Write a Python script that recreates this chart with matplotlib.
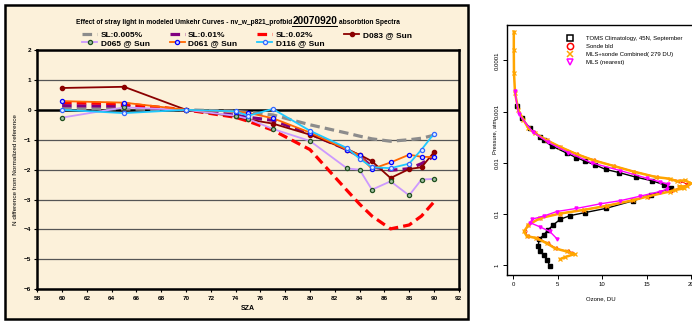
import matplotlib
matplotlib.use("Agg")
import matplotlib.pyplot as plt
import numpy as np
from matplotlib.patches import Rectangle
from matplotlib.lines import Line2D

plt.rcParams['font.family'] = ['Liberation Sans', 'DejaVu Sans']

# ---- left chart data (N difference vs SZA) ----
sza = [60, 65, 70, 74, 75, 77, 80, 83, 84, 85, 86.5, 88, 89, 90]
sl_005 = [0.04, 0.03, 0, -0.05, -0.08, -0.17, -0.5, -0.78, -0.88, -0.97, -1.05, -1.0, -0.95, -0.85]
sl_01 = [0.14, 0.12, 0, -0.18, -0.25, -0.35, -0.8, -1.33, -1.55, -1.9, -2.02, -1.97, -1.8, -1.55]
sl_02 = [0.25, 0.2, 0, -0.25, -0.38, -0.68, -1.33, -2.7, -3.15, -3.55, -3.98, -3.85, -3.55, -3.08]
d083 = [0.73, 0.77, 0, -0.22, -0.32, -0.46, -0.83, -1.33, -1.5, -1.72, -2.28, -1.98, -1.92, -1.42]
d065 = [-0.26, 0.08, 0, -0.2, -0.3, -0.64, -1.04, -1.96, -2.0, -2.67, -2.39, -2.86, -2.33, -2.31]
d061 = [0.29, 0.24, 0, -0.06, -0.1, -0.28, -0.76, -1.33, -1.52, -1.98, -1.76, -1.5, -1.57, -1.58]
d116 = [0.0, -0.11, 0, -0.05, -0.2, 0.03, -0.7, -1.28, -1.63, -1.92, -1.95, -1.8, -1.33, -0.8]

# ---- right chart data (ozone DU vs log10 pressure) ----
toms_du = [0.4, 0.94, 1.9, 3.0, 3.4, 4.3, 6.0, 7.1, 8.1, 9.2, 10.4, 11.9, 13.8, 15.6, 17.0,
           17.7, 15.5, 13.5, 10.4, 8.1, 6.4, 5.3, 4.5, 3.9, 3.4, 2.9, 2.8, 3.0, 3.4, 3.8, 4.1]
toms_logp = [-3.1, -2.87, -2.67, -2.51, -2.44, -2.33, -2.19, -2.10, -2.03, -1.96, -1.87, -1.81,
             -1.72, -1.65, -1.57, -1.50, -1.38, -1.26, -1.11, -1.03, -0.97, -0.90, -0.79, -0.69,
             -0.59, -0.51, -0.38, -0.28, -0.20, -0.10, 0.01]
sonde_du = [2.3, 3.8, 5.3, 7.2, 9.1, 11.3, 13.6, 16.2, 18.7, 19.6, 18.9, 17.7, 15.1, 13.4, 10.4, 7.8,
            5.2, 3.0, 1.7, 1.3, 1.6, 2.7, 3.9, 4.8, 6.1, 6.6]
sonde_logp = [-2.60, -2.44, -2.31, -2.17, -2.05, -1.94, -1.83, -1.72, -1.65, -1.58, -1.52, -1.45,
              -1.34, -1.27, -1.16, -1.08, -1.01, -0.92, -0.79, -0.66, -0.57, -0.53, -0.43, -0.33,
              -0.27, -0.25]
mls_sonde_du = [0.05, 0.05, 0.07, 0.19, 0.56, 1.13, 1.7, 2.4, 3.76, 5.26, 7.1, 9.0, 11.25, 13.5, 16.1,
                17.6, 18.4, 19.3, 20.0, 19.5, 18.6, 19.2, 18.2, 17.6, 15.0, 13.5, 10.5, 7.9, 5.26,
                3.0, 1.7, 1.2, 1.5, 2.6, 3.76, 4.7, 6.0, 6.9, 5.8, 5.26]
mls_sonde_logp = [-4.56, -4.2, -3.75, -3.36, -3.03, -2.84, -2.67, -2.58, -2.44, -2.31, -2.17, -2.05,
                  -1.94, -1.83, -1.72, -1.69, -1.64, -1.66, -1.60, -1.54, -1.54, -1.50, -1.47, -1.44,
                  -1.34, -1.27, -1.16, -1.08, -1.01, -0.92, -0.79, -0.66, -0.57, -0.53, -0.43, -0.33,
                  -0.27, -0.22, -0.16, -0.12]
mls_du = [0.15, 0.6, 2.2, 3.9, 6.2, 8.8, 12.0, 15.0, 16.5, 17.4, 17.3, 16.5, 14.3, 12.0,
          9.8, 7.1, 4.9, 3.4, 2.1, 1.9, 3.0, 4.1, 4.95]
mls_logp = [-3.4, -2.95, -2.6, -2.4, -2.2, -2.0, -1.85, -1.7, -1.63, -1.58, -1.48, -1.44,
            -1.35, -1.26, -1.20, -1.11, -1.05, -0.96, -0.90, -0.83, -0.75, -0.66, -0.51]

W, H = 692, 321
fig = plt.figure(figsize=(W / 100, H / 100), dpi=100)


def fx(px):
    return px / W


def fy(py):
    return 1 - py / H


# parchment chart area behind the left chart
fig.patches.append(Rectangle((fx(5), fy(319)), fx(463), 314 / H, transform=fig.transFigure,
                             facecolor='#fcf1da', edgecolor='black', lw=1.8, zorder=-10))

ax = fig.add_axes([fx(37.3), fy(289.3), fx(421.4), 239.3 / H])
ax.set_facecolor('none')
for y in range(-6, 3):
    if y == 0:
        continue
    ax.axhline(y, color='#555555', lw=0.9, zorder=1)
ax.axhline(0, color='black', lw=1.8, zorder=1)

dash = (3, 1.6)
ax.plot(sza, sl_005, color='#8c8c8c', lw=2.3, dashes=dash, label='SL:0.005%', zorder=2)
ax.plot(sza, sl_01, color='#800080', lw=2.3, dashes=dash, label='SL:0.01%', zorder=2)
ax.plot(sza, sl_02, color='#ff0000', lw=2.3, dashes=dash, label='SL:0.02%', zorder=2)
ax.plot(sza, d083, color='#8b0000', lw=1.3, marker='o', ms=3, mfc='#8b0000', mec='#8b0000',
        label='D083 @ Sun', zorder=3)
ax.plot(sza, d065, color='#cc99ff', lw=1.3, marker='o', ms=3, mfc='#9fbf9f', mec='#1f4f1f',
        mew=0.9, label='D065 @ Sun', zorder=3)
ax.plot(sza, d061, color='#ff6600', lw=1.3, marker='o', ms=3, mfc='#ccccff', mec='#0000ff',
        mew=0.9, label='D061 @ Sun', zorder=3)
ax.plot(sza, d116, color='#1ec8ff', lw=1.3, marker='o', ms=3, mfc='#e0f0ff', mec='#3366ff',
        mew=0.9, label='D116 @ Sun', zorder=3)

ax.set_xlim(58, 92)
ax.set_ylim(-6, 2)
ax.set_xticks(np.arange(58, 93, 2))
ax.set_yticks(np.arange(-6, 3, 1))
ax.tick_params(labelsize=4.6, length=2.5, width=0.8, pad=2)
for lab in ax.get_xticklabels() + ax.get_yticklabels():
    lab.set_fontweight('bold')
for s in ax.spines.values():
    s.set_linewidth(1.8)
ax.set_xlabel('SZA', fontsize=5, fontweight='bold', labelpad=3)
ax.set_ylabel('N difference from Normalized reference', fontsize=4.6, labelpad=4)

h, l = ax.get_legend_handles_labels()
order = [0, 4, 1, 5, 2, 6, 3]
fig.legend([h[i] for i in order], [l[i] for i in order], loc='upper center',
           bbox_to_anchor=(fx(247), fy(27)), ncol=4, frameon=False,
           prop={'size': 6, 'weight': 'bold'}, handlelength=1.8, handletextpad=0.4,
           columnspacing=2.4, labelspacing=0.05, borderpad=0)

# title in three pieces, middle one bigger and underlined
fig.canvas.draw()
rend = fig.canvas.get_renderer()
parts = [('Effect of stray light in modeled Umkehr Curves - nv_w_p821_profbid', 4.8),
         ('20070920', 7.2), (' absorbtion Spectra', 4.8)]
texts = []
for s, fs in parts:
    t = fig.text(0, fy(24.5), s, fontsize=fs, fontweight='bold', va='baseline')
    texts.append(t)
widths = [t.get_window_extent(rend).width for t in texts]
x0 = 238 - sum(widths) / 2
for t, w in zip(texts, widths):
    t.set_x(fx(x0))
    if t is texts[1]:
        fig.add_artist(Line2D([fx(x0), fx(x0 + w)], [fy(26.3), fy(26.3)],
                              transform=fig.transFigure, color='black', lw=0.7))
    x0 += w

# ---- right chart ----
ax2 = fig.add_axes([fx(506.7), fy(275), fx(188.8), 250 / H])
ax2.set_yscale('log')
ax2.plot(toms_du, np.power(10.0, toms_logp), color='black', lw=1.0, marker='s', ms=2.4,
         zorder=2)
ax2.plot(sonde_du, np.power(10.0, sonde_logp), color='red', lw=0.8, marker='o', ms=2.2, mfc='none',
         mew=0.6, zorder=3)
ax2.plot(mls_sonde_du, np.power(10.0, mls_sonde_logp), color='#ffa500', lw=1.8, marker='x', ms=3,
         mew=0.9, zorder=4)
ax2.plot(mls_du, np.power(10.0, mls_logp), color='magenta', lw=1.0, marker='v', ms=2.2, zorder=5)
ax2.set_xlim(-0.75, 20.5)
ax2.set_ylim(10 ** 0.189, 10 ** -4.689)
ax2.set_xticks([0, 5, 10, 15, 20])
ax2.set_yticks([0.0001, 0.001, 0.01, 0.1, 1])
ax2.set_yticklabels(['0.0001', '0.001', '0.01', '0.1', '1'], rotation=90, va='center')
ax2.yaxis.set_minor_locator(matplotlib.ticker.NullLocator())
ax2.tick_params(labelsize=4.3, length=3, width=0.7, pad=2)
for s in ax2.spines.values():
    s.set_linewidth(1.0)
ax2.set_xlabel('Ozone, DU', fontsize=4.3, labelpad=7)
ax2.set_ylabel('Pressure, atm', fontsize=4.1)
ax2.yaxis.set_label_coords(-0.05, 0.553)

proxies = [Line2D([], [], ls='none', marker='s', ms=4.5, mfc='none', mec='black', mew=1.1),
           Line2D([], [], ls='none', marker='o', ms=4.5, mfc='none', mec='red', mew=1.1),
           Line2D([], [], ls='none', marker='x', ms=4.5, mec='#ffa500', mew=1.1),
           Line2D([], [], ls='none', marker='v', ms=4.5, mfc='none', mec='magenta', mew=1.1)]
ax2.legend(proxies, ['TOMS Climatology, 45N, September', 'Sonde bld',
                     'MLS+sonde Combined( 279 DU)', 'MLS (nearest)'],
           loc='upper left', bbox_to_anchor=((571.7 - 506.7 - 4) / 188.8, (275 - 36) / 250),
           frameon=False, fontsize=4.3, handlelength=0.8, handletextpad=2.2,
           labelspacing=0.45, borderpad=0, borderaxespad=0)

fig.savefig('out.png', dpi=100)
